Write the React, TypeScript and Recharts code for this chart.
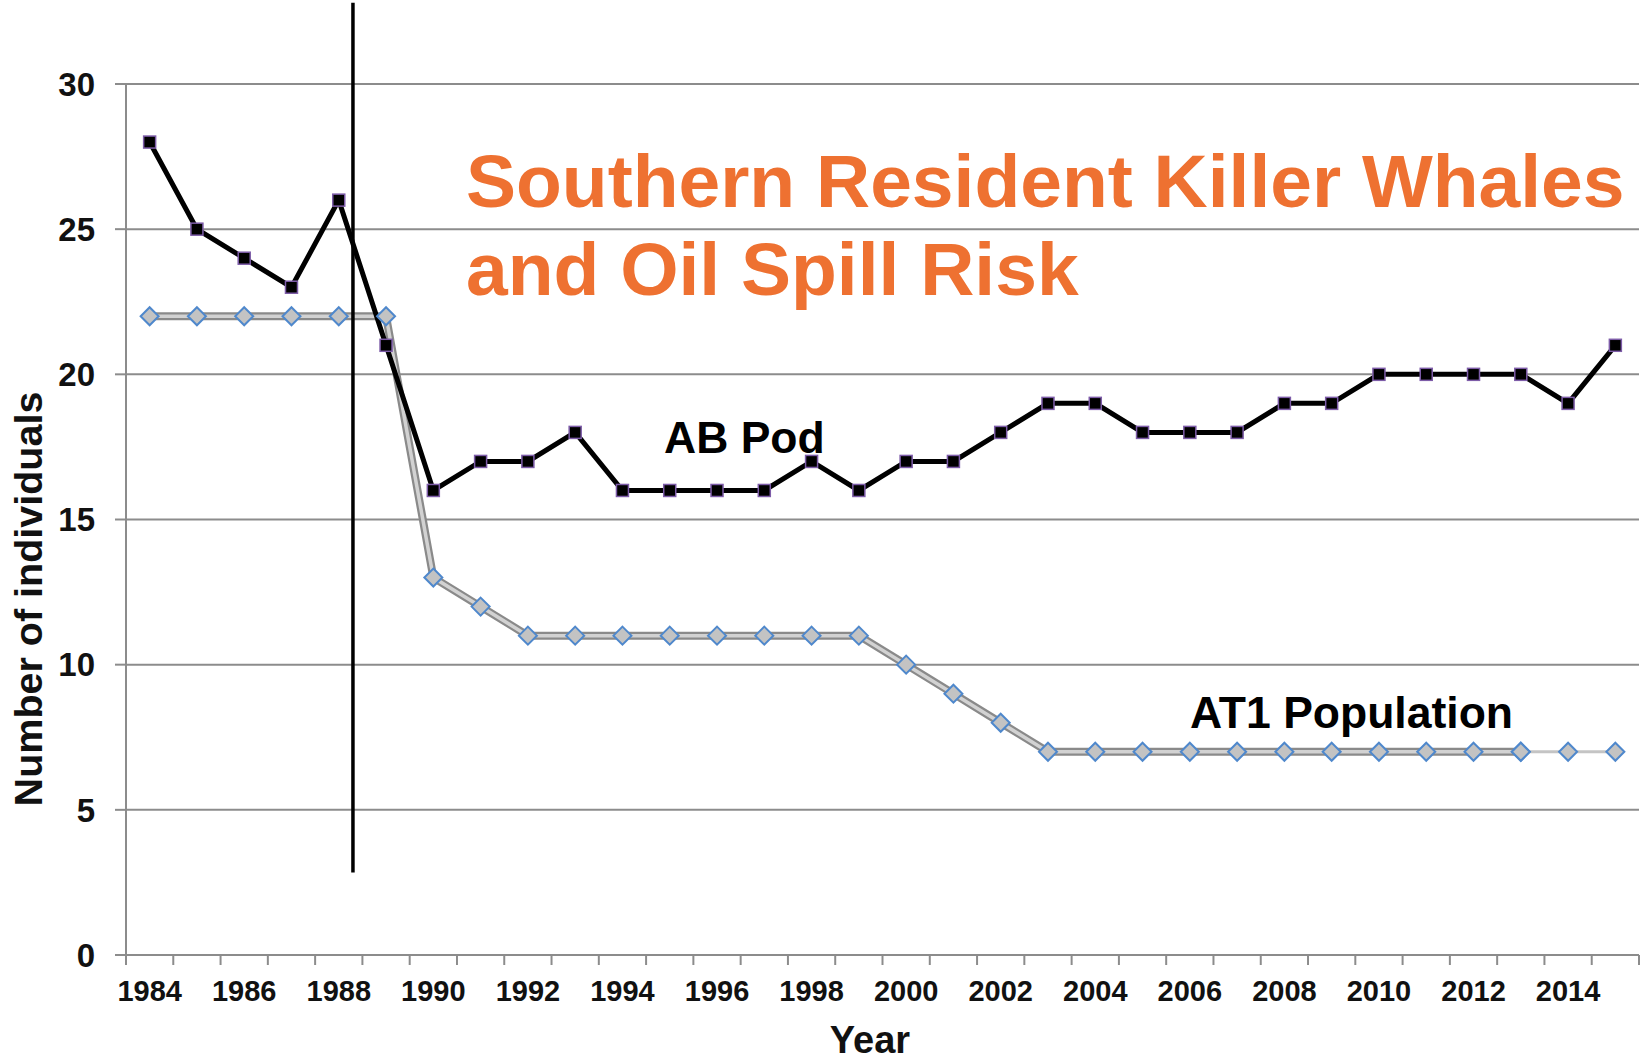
import React from 'react';
import { LineChart, Line, XAxis, YAxis, CartesianGrid, ReferenceLine } from 'recharts';

// values
const years = [
  1984, 1985, 1986, 1987, 1988, 1989, 1990, 1991, 1992, 1993, 1994, 1995, 1996, 1997, 1998, 1999,
  2000, 2001, 2002, 2003, 2004, 2005, 2006, 2007, 2008, 2009, 2010, 2011, 2012, 2013, 2014, 2015,
];
const abPod = [
  28, 25, 24, 23, 26, 21, 16, 17, 17, 18, 16, 16, 16, 16, 17, 16,
  17, 17, 18, 19, 19, 18, 18, 18, 19, 19, 20, 20, 20, 20, 19, 21,
];
const at1Population = [
  22, 22, 22, 22, 22, 22, 13, 12, 11, 11, 11, 11, 11, 11, 11, 11,
  10, 9, 8, 7, 7, 7, 7, 7, 7, 7, 7, 7, 7, 7, 7, 7,
];
const yearLabels = [1984, 1986, 1988, 1990, 1992, 1994, 1996, 1998, 2000, 2002, 2004, 2006, 2008, 2010, 2012, 2014];
const yTicks = [0, 5, 10, 15, 20, 25, 30];
const AT1_SOLID_END = 2013; // the double grey line stops here, a thin line carries on
const SPILL_X = 1988.3;
const SPILL_Y = [2.84, 32.8];

const W = 1641;
const H = 1061;
const PLOT_LEFT = 126;
const PLOT_RIGHT = 2;
const PLOT_W = W - PLOT_LEFT - PLOT_RIGHT;
const HALF_STEP = PLOT_W / years.length / 2;
const FONT = "'Liberation Sans', Arial, sans-serif";
const GRID = '#8c8c8c';

const data = years.map((year, i) => ({
  year,
  ab: abPod[i],
  at1: year <= AT1_SOLID_END ? at1Population[i] : null,
  at1Tail: year >= AT1_SOLID_END ? at1Population[i] : null,
}));

const boundaryTicks = [...years.map(y => y - 0.5), years[years.length - 1] + 0.5];

const renderYearTick = (props: any) => {
  const { x, y, payload } = props;
  const year = payload.value + 0.5;
  if (!yearLabels.includes(year)) return <g />;
  return (
    <text x={x + HALF_STEP} y={y} dy="0.71em" textAnchor="middle" fontSize={29} fontWeight="bold" fill="#111" fontFamily={FONT}>
      {year}
    </text>
  );
};

const squareDot = (props: any) => {
  const { cx, cy, index } = props;
  if (cx == null || cy == null) return <g key={`sq-${index}`} />;
  return <rect key={`sq-${index}`} x={cx - 6} y={cy - 6} width={12} height={12} fill="#000" stroke="#7d5ca8" strokeWidth={1.5} />;
};

const diamondDot = (key: string) => (props: any) => {
  const { cx, cy, index } = props;
  if (cx == null || cy == null) return <g key={`${key}-${index}`} />;
  const r = 9;
  return (
    <polygon
      key={`${key}-${index}`}
      points={`${cx},${cy - r} ${cx + r},${cy} ${cx},${cy + r} ${cx - r},${cy}`}
      fill="#c3c3c3"
      stroke="#4f88cc"
      strokeWidth={2}
    />
  );
};

const App: React.FC = () => {
  return (
    <div style={{ position: 'absolute', left: 0, top: 0, width: W, height: H, background: '#fff' }}>
      <LineChart width={W} height={H} data={data} margin={{ top: 84, right: PLOT_RIGHT, left: 0, bottom: 0 }}>
        <CartesianGrid horizontal vertical={false} stroke={GRID} strokeWidth={2} />
        <XAxis
          dataKey="year"
          type="number"
          domain={[1983.5, 2015.5]}
          ticks={boundaryTicks}
          interval={0}
          height={106}
          tickSize={10}
          tickMargin={15}
          tick={renderYearTick}
          axisLine={{ stroke: GRID, strokeWidth: 2 }}
          tickLine={{ stroke: GRID, strokeWidth: 2 }}
        />
        <YAxis
          type="number"
          domain={[0, 30]}
          ticks={yTicks}
          interval={0}
          width={PLOT_LEFT}
          tickSize={11}
          tickMargin={20}
          axisLine={{ stroke: GRID, strokeWidth: 2 }}
          tickLine={{ stroke: GRID, strokeWidth: 2 }}
          tick={{ fontSize: 33, fontWeight: 'bold', fill: '#111', fontFamily: FONT }}
        />
        <Line dataKey="at1Tail" stroke="#c4c4c4" strokeWidth={3} dot={diamondDot('tail')} isAnimationActive={false} />
        <Line dataKey="at1" stroke="#8a8a8a" strokeWidth={8} dot={false} isAnimationActive={false} />
        <Line dataKey="at1" stroke="#d2d2d2" strokeWidth={3.5} dot={diamondDot('at1')} isAnimationActive={false} />
        <ReferenceLine
          segment={[{ x: SPILL_X, y: SPILL_Y[0] }, { x: SPILL_X, y: SPILL_Y[1] }]}
          stroke="#000"
          strokeWidth={3.5}
          ifOverflow="visible"
        />
        <Line dataKey="ab" stroke="#000" strokeWidth={5} dot={squareDot} isAnimationActive={false} />
      </LineChart>
      <svg width={W} height={H} style={{ position: 'absolute', left: 0, top: 0, pointerEvents: 'none' }} fontFamily={FONT} fontWeight="bold">
        <text x={466} y={207} fontSize={75} fill="#ee7131">Southern Resident Killer Whales</text>
        <text x={466} y={295} fontSize={75} fill="#ee7131">and Oil Spill Risk</text>
        <text x={664} y={453} fontSize={44.5} fill="#000">AB Pod</text>
        <text x={1190} y={728} fontSize={44.5} fill="#000">AT1 Population</text>
        <text x={870} y={1053} fontSize={38} fill="#111" textAnchor="middle">Year</text>
        <text x={42} y={599} fontSize={39.5} fill="#111" textAnchor="middle" transform="rotate(-90 42 599)">Number of individuals</text>
      </svg>
    </div>
  );
};

export default App;
